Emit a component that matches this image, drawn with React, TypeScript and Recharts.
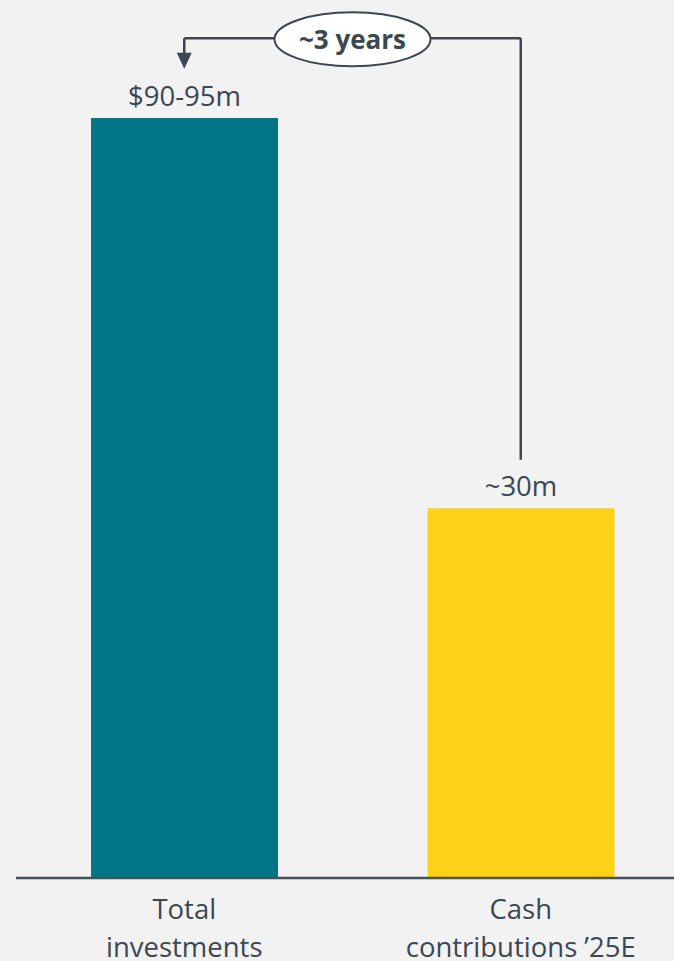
import { Bar, BarChart, Cell, LabelList, ReferenceLine, XAxis, YAxis } from "recharts"

// chart values
const categories = ["Total\ninvestments", "Cash\ncontributions \u201925E"]
const values = [92.5, 45]
const valueLabels = ["$90-95m", "~30m"]
const barColors = ["#017686", "#fcd116"]

// annotation levels, in the same units as the bars
const bracketLevel = 102.2
const arrowTip = 98.5
const rightLineEnd = 50.9
const bracketText = "~3 years"

const data = categories.map((name, i) => ({ name, value: values[i], label: valueLabels[i] }))

const ink = "#3b4752"
const font = "'Open Sans', sans-serif"

function CategoryTick(props: any) {
  const { x, y, payload } = props
  const lines = String(payload.value).split("\n")
  return (
    <text x={x} y={y} textAnchor="middle" fill={ink} fontSize={27.5} fontFamily={font}>
      {lines.map((line, i) => (
        <tspan key={i} x={x} dy={i === 0 ? 33 : 38}>
          {line}
        </tspan>
      ))}
    </text>
  )
}

function ValueLabel(props: any) {
  const { x, y, width, value } = props
  return (
    <text x={x + width / 2} y={y - 12} textAnchor="middle" fill={ink} fontSize={27.5} fontFamily={font}>
      {value}
    </text>
  )
}

function ArrowShape(props: any) {
  const { x1, y1, x2, y2 } = props
  return (
    <g>
      <line x1={x1} y1={y1} x2={x2} y2={y2 - 15} stroke={ink} strokeWidth={2.5} />
      <polygon points={`${x2 - 7.5},${y2 - 16} ${x2 + 7.5},${y2 - 16} ${x2},${y2}`} fill={ink} />
    </g>
  )
}

function EllipseLabel(props: any) {
  const { viewBox } = props
  const cx = viewBox.x + viewBox.width / 2
  const cy = viewBox.y + 1
  return (
    <g>
      <ellipse cx={cx} cy={cy} rx={78} ry={27} fill="#ffffff" stroke={ink} strokeWidth={2} />
      <text x={cx} y={cy + 10} textAnchor="middle" fill={ink} fontSize={26} fontWeight={700} fontFamily={font}>
        {bracketText}
      </text>
    </g>
  )
}

export default function App() {
  return (
    <div style={{ width: 674, height: 961, overflow: "hidden", background: "#f2f2f2" }}>
      <style>{`body{margin:0;}`}</style>
      <BarChart width={689} height={961} data={data} margin={{ top: 118, right: 0, bottom: 0, left: 16 }}>
        <XAxis
          dataKey="name"
          height={83}
          axisLine={{ stroke: "#44525c", strokeWidth: 2.5 }}
          tickLine={false}
          interval={0}
          tick={<CategoryTick />}
        />
        <YAxis hide domain={[0, 92.5]} />
        <Bar dataKey="value" barSize={187} isAnimationActive={false}>
          {data.map((d, i) => (
            <Cell key={d.name} fill={barColors[i]} />
          ))}
          <LabelList dataKey="label" content={<ValueLabel />} />
        </Bar>
        <ReferenceLine
          ifOverflow="visible"
          segment={[
            { x: categories[1], y: bracketLevel },
            { x: categories[1], y: rightLineEnd },
          ]}
          stroke={ink}
          strokeWidth={2.5}
        />
        <ReferenceLine
          ifOverflow="visible"
          segment={[
            { x: categories[0], y: bracketLevel },
            { x: categories[0], y: arrowTip },
          ]}
          shape={<ArrowShape />}
        />
        <ReferenceLine
          ifOverflow="visible"
          segment={[
            { x: categories[0], y: bracketLevel },
            { x: categories[1], y: bracketLevel },
          ]}
          stroke={ink}
          strokeWidth={2.5}
          label={<EllipseLabel />}
        />
      </BarChart>
    </div>
  )
}
